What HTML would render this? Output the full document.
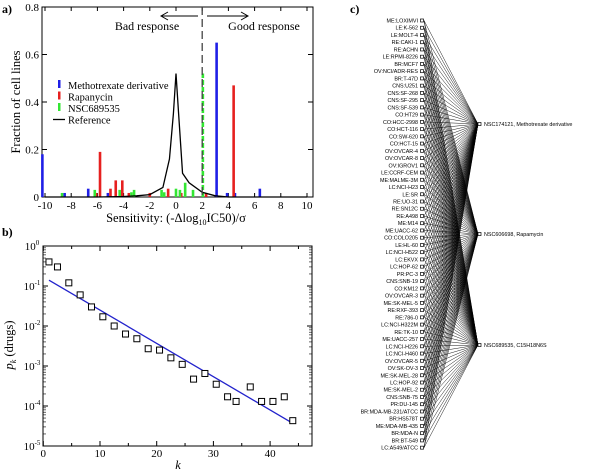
<!DOCTYPE html>
<html><head><meta charset="utf-8"><style>
body{margin:0;background:#fff}
svg{display:block}
text{font-family:"Liberation Serif",serif}
text.sans{font-family:"Liberation Sans",sans-serif}
</style></head><body>
<svg width="600" height="470" viewBox="0 0 600 470" xmlns="http://www.w3.org/2000/svg">
<g id="pa"></g>
<g id="pb"></g>
<g id="pc"></g>
</svg>
<script>
const blueX=[-10.2,-8.5,-6.7,-5.2,-4.2,3.1,3.9,4.5,6.4];
const blueY=[0.18,0.017,0.035,0.017,0.017,0.65,0.017,0.017,0.035];
const redX=[-6.1,-5.8,-5.0,-4.6,-4.1,-3.6,-2.0,-0.6,0.4,2.3,4.4];
const redY=[0.017,0.19,0.035,0.07,0.07,0.017,0.017,0.035,0.017,0.017,0.47];
const greenX=[-8.7,-6.2,-4.3,-3.4,-3.2,-1.1,-0.9,0.0,0.3,0.7,1.3];
const greenY=[0.017,0.03,0.03,0.02,0.03,0.03,0.02,0.035,0.03,0.06,0.03];
const greenDashX=[2.05];
const greenDashY=[0.52];
const refX=[-10,-6,-4,-3,-2,-1,-0.5,-0.2,0,0.2,0.5,1,2,3,4,10];
const refY=[0,0,0.002,0.005,0.01,0.04,0.16,0.35,0.52,0.35,0.1,0.06,0.02,0.005,0,0];
const xTicksA=[-10,-8,-6,-4,-2,0,2,4,6,8,10];
const yTicksA=[0,0.2,0.4,0.6,0.8];
const kVals=[1,2.5,4.5,6.5,8.5,10.5,12.5,14.5,16.5,18.5,20.5,22.5,24.5,26.5,28.5,30.5,32.5,34,36.5,38.5,40.5,42.5,44];
const pVals=[0.4,0.3,0.12,0.06,0.03,0.017,0.01,0.0063,0.0048,0.0027,0.0025,0.0016,0.0011,0.00047,0.00065,0.00035,0.00017,0.00013,0.0003,0.00013,0.00013,0.00017,0.000043];
const fitK=[1,44];
const fitP=[0.14,0.000037];
const xTicksB=[0,10,20,30,40];
const yExpB=[0,-1,-2,-3,-4,-5];
const cells=["ME:LOXIMVI","LE:K-562","LE:MOLT-4","RE:CAKI-1","RE:ACHN","LE:RPMI-8226","BR:MCF7","OV:NCI/ADR-RES","BR:T-47D","CNS:U251","CNS:SF-268","CNS:SF-295","CNS:SF-539","CO:HT29","CO:HCC-2998","CO:HCT-116","CO:SW-620","CO:HCT-15","OV:OVCAR-4","OV:OVCAR-8","OV:IGROV1","LE:CCRF-CEM","ME:MALME-3M","LC:NCI-H23","LE:SR","RE:UO-31","RE:SN12C","RE:A498","ME:M14","ME:UACC-62","CO:COLO205","LE:HL-60","LC:NCI-H522","LC:EKVX","LC:HOP-62","PR:PC-3","CNS:SNB-19","CO:KM12","OV:OVCAR-3","ME:SK-MEL-5","RE:RXF-393","RE:786-0","LC:NCI-H322M","RE:TK-10","ME:UACC-257","LC:NCI-H226","LC:NCI-H460","OV:OVCAR-5","OV:SK-OV-3","ME:SK-MEL-28","LC:HOP-92","ME:SK-MEL-2","CNS:SNB-75","PR:DU-145","BR:MDA-MB-231/ATCC","BR:HS578T","ME:MDA-MB-435","BR:MDA-N","BR:BT-549","LC:A549/ATCC"];
const drugs=["NSC174121, Methotrexate derivative","NSC606698, Rapamycin","NSC689535, C15H18N6S"];

const NS="http://www.w3.org/2000/svg";
function mk(p,tag,a,txt){const e=document.createElementNS(NS,tag);for(const k in a)e.setAttribute(k,a[k]);if(txt!==undefined)e.textContent=txt;p.appendChild(e);return e;}

// Panel A
const A=document.getElementById('pa');
const ax=v=>176+v*13.1, ay=v=>197-v*237.5;
let t=mk(A,'text',{x:2,y:13,'font-size':12,'font-weight':'bold'},'a)');

let r=mk(A,'rect',{x:42,y:7,width:271,height:190,fill:'none',stroke:'#000','stroke-width':1});

xTicksA.forEach(v=>{mk(A,'line',{x1:ax(v),x2:ax(v),y1:197,y2:193,stroke:'#000'});mk(A,'line',{x1:ax(v),x2:ax(v),y1:7,y2:11,stroke:'#000'});
 const l=mk(A,'text',{x:ax(v),y:209,'font-size':11,'text-anchor':'middle'},v);});
yTicksA.forEach(v=>{mk(A,'line',{x1:42,x2:47,y1:ay(v),y2:ay(v),stroke:'#000'});mk(A,'line',{x1:313,x2:308,y1:ay(v),y2:ay(v),stroke:'#000'});
 const l=mk(A,'text',{x:39,y:ay(v)+4,'font-size':11,'text-anchor':'end'},v===0?'0':v.toFixed(1));});
t=mk(A,'text',{x:0,y:0,'font-size':12.5,'text-anchor':'middle',transform:'translate(20,102) rotate(-90)'},'Fraction of cell lines');

t=mk(A,'text',{x:176,y:222,'font-size':12.5,'text-anchor':'middle'});
t.innerHTML='Sensitivity: (-Δlog<tspan font-size="8" dy="3">10</tspan><tspan dy="-3">IC50)/σ</tspan>';

function bars(xs,ys,col,name,dash){xs.forEach((v,i)=>{const b=mk(A,'line',{x1:ax(v),x2:ax(v),y1:197,y2:ay(ys[i]),stroke:col,'stroke-width':2.6});if(dash)b.setAttribute('stroke-dasharray','5,2');
 });}
bars(blueX,blueY,'#1f1fe6','bar-methotrexate');
bars(redX,redY,'#e6201f','bar-rapamycin');
bars(greenX,greenY,'#33e633','bar-nsc689535');
bars(greenDashX,greenDashY,'#33e633','bar-nsc689535-peak',true);
let pts=refX.map((v,i)=>ax(v)+','+ay(refY[i])).join(' ');
let pl=mk(A,'polyline',{points:pts,fill:'none',stroke:'#000','stroke-width':1.3});

let dl=mk(A,'line',{x1:ax(2),x2:ax(2),y1:7,y2:197,stroke:'#444','stroke-width':1.3,'stroke-dasharray':'8,4'});

mk(A,'path',{d:'M198 16 H162 M168 12 L161 16 L168 20 M207 16 H247 M241 12 L248 16 L241 20',stroke:'#000',fill:'none','stroke-width':1});
t=mk(A,'text',{x:147,y:30,'font-size':12,'text-anchor':'middle'},'Bad response');
t=mk(A,'text',{x:264,y:30,'font-size':12,'text-anchor':'middle'},'Good response');
[['#1f1fe6','Methotrexate derivative'],['#e6201f','Rapanycin'],['#33e633','NSC689535'],['#000','Reference']].forEach((e,i)=>{
 const y=85+i*11.5;const g=mk(A,'g',{});
 if(i<3)mk(g,'rect',{x:58,y:y-5,width:2.5,height:8,fill:e[0]});else mk(g,'line',{x1:53,x2:65,y1:y,y2:y,stroke:'#000','stroke-width':1.3});
 mk(g,'text',{x:68,y:y+4,'font-size':10.5},e[1]);});

// Panel B
const B=document.getElementById('pb');
const bx=v=>43.3+v*5.67, by=v=>246-Math.log10(v)*40;
t=mk(B,'text',{x:2,y:236,'font-size':12,'font-weight':'bold'},'b)');
r=mk(B,'rect',{x:43,y:246,width:269,height:200,fill:'none',stroke:'#000'});
xTicksB.forEach(v=>{mk(B,'line',{x1:bx(v),x2:bx(v),y1:446,y2:441,stroke:'#000'});mk(B,'line',{x1:bx(v),x2:bx(v),y1:246,y2:251,stroke:'#000'});
 const l=mk(B,'text',{x:bx(v),y:457,'font-size':11,'text-anchor':'middle'},v);});
for(let v=5;v<47;v+=5){if(v%10){mk(B,'line',{x1:bx(v),x2:bx(v),y1:446,y2:443,stroke:'#000'});mk(B,'line',{x1:bx(v),x2:bx(v),y1:246,y2:249,stroke:'#000'});}}
yExpB.forEach(e=>{const y=by(Math.pow(10,e));mk(B,'line',{x1:43,x2:48,y1:y,y2:y,stroke:'#000'});mk(B,'line',{x1:312,x2:307,y1:y,y2:y,stroke:'#000'});
 if(e>-5)for(let m=2;m<10;m++){const yy=by(m*Math.pow(10,e-1));mk(B,'line',{x1:43,x2:46,y1:yy,y2:yy,stroke:'#000','stroke-width':0.6});mk(B,'line',{x1:312,x2:309,y1:yy,y2:yy,stroke:'#000','stroke-width':0.6});}
 const l=mk(B,'text',{x:32,y:y+4,'font-size':11,'text-anchor':'middle'});l.innerHTML='10<tspan font-size="7" dy="-5">'+e+'</tspan>';});
t=mk(B,'text',{x:0,y:0,'font-size':12.5,'text-anchor':'middle',transform:'translate(13,345) rotate(-90)'});
t.innerHTML='<tspan font-style="italic">p</tspan><tspan font-size="8" dy="3" font-style="italic">k</tspan><tspan dy="-3"> (drugs)</tspan>';

t=mk(B,'text',{x:178,y:469,'font-size':12.5,'text-anchor':'middle','font-style':'italic'},'k');
let fl=mk(B,'line',{x1:bx(fitK[0]),y1:by(fitP[0]),x2:bx(fitK[1]),y2:by(fitP[1]),stroke:'#2222cc','stroke-width':1.3});

kVals.forEach((k,i)=>{const s=mk(B,'rect',{x:bx(k)-3,y:by(pVals[i])-3,width:6,height:6,fill:'#fff',stroke:'#000','stroke-width':1});
 });

// Panel C
const C=document.getElementById('pc');
t=mk(C,'text',{x:350,y:13,'font-size':12,'font-weight':'bold'},'c)');
const cy=i=>20.5+i*7.24;
const dY=[124,234,345];
const lg=mk(C,'g',{stroke:'#000','stroke-width':0.45});
cells.forEach((c,i)=>{dY.forEach(y=>mk(lg,'line',{x1:424,y1:cy(i),x2:478,y2:y}));});
cells.forEach((c,i)=>{const g=mk(C,'g',{});
 mk(g,'rect',{x:420.5,y:cy(i)-1.5,width:3,height:3,fill:'#fff',stroke:'#000','stroke-width':0.7});
 mk(g,'text',{x:418,y:cy(i)+2,'font-size':5.4,'text-anchor':'end','class':'sans'},c);});
drugs.forEach((d,i)=>{const g=mk(C,'g',{});
 mk(g,'rect',{x:478,y:dY[i]-1.5,width:3,height:3,fill:'#fff',stroke:'#000','stroke-width':0.7});
 mk(g,'text',{x:484,y:dY[i]+2,'font-size':5.4,'class':'sans'},d);});
</script>
</body></html>
